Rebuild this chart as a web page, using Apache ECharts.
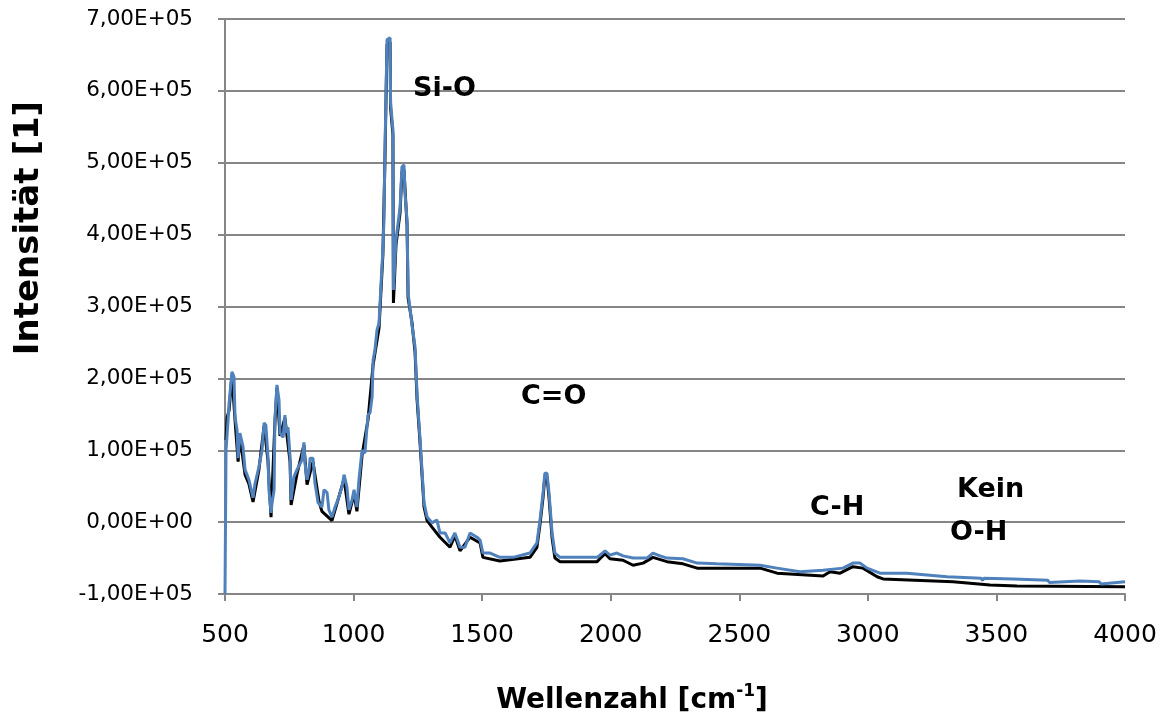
<!DOCTYPE html>
<html>
<head>
<meta charset="utf-8">
<script src="https://cdn.jsdelivr.net/npm/echarts@6/dist/echarts.min.js"></script>
<style>
  html, body { margin: 0; padding: 0; background: #fff; }
  #main { width: 1167px; height: 721px; }
</style>
</head>
<body>
<div id="main"></div>
<script>
// Spektrum (blau) - Wellenzahl / Intensität
var waveBlue = [500, 504, 512, 516, 527, 535, 539, 547, 551, 558, 570, 578, 593, 609, 617, 632, 644, 652, 659, 667,
  671, 679, 683, 691, 694, 702, 710, 714, 726, 733, 737, 745, 753, 757, 768, 780, 799, 807, 811, 819,
  827, 831, 842, 850, 862, 877, 885, 897, 904, 916, 928, 939, 955, 963, 974, 982, 994, 1002, 1013, 1021,
  1033, 1044, 1056, 1064, 1072, 1076, 1083, 1091, 1099, 1107, 1114, 1118, 1122, 1130, 1142, 1144, 1153, 1155, 1165, 1181,
  1188, 1196, 1200, 1208, 1212, 1227, 1239, 1247, 1258, 1266, 1274, 1286, 1305, 1324, 1336, 1356, 1375, 1394, 1414, 1433,
  1453, 1480, 1492, 1503, 1531, 1569, 1620, 1686, 1713, 1725, 1737, 1744, 1752, 1760, 1772, 1783, 1803, 1947, 1958, 1978,
  1997, 2024, 2048, 2087, 2141, 2164, 2192, 2219, 2281, 2336, 2413, 2581, 2647, 2736, 2826, 2903, 2942, 2969, 2997, 3047,
  3152, 3308, 3440, 3446, 3452, 3565, 3700, 3706, 3825, 3900, 3906, 4000];
var intBlue = [-100000, 100000, 142000, 166000, 209000, 202000, 146000, 128000, 89000, 124000, 105000, 73000, 59000, 34000, 54000, 77000, 100000, 138000, 135000, 91000,
  45000, 13000, 27000, 45000, 142000, 191000, 170000, 124000, 118000, 149000, 124000, 132000, 91000, 31000, 63000, 73000, 86000, 111000, 82000, 59000,
  73000, 89000, 89000, 54000, 27000, 21000, 45000, 41000, 17000, 7000, 21000, 31000, 49000, 66000, 49000, 17000, 31000, 45000, 21000, 59000,
  100000, 96000, 149000, 152000, 174000, 226000, 239000, 267000, 277000, 333000, 379000, 420000, 514000, 671000, 674000, 583000, 546000, 323000, 393000, 438000,
  494000, 497000, 458000, 420000, 319000, 275000, 244000, 177000, 118000, 73000, 27000, 7000, -1000, 3000, -15000, -15000, -29000, -15000, -35000, -35000,
  -15000, -21000, -25000, -43000, -43000, -49000, -49000, -43000, -29000, 3000, 41000, 68000, 68000, 41000, -15000, -43000, -49000, -49000, -46000, -40000,
  -46000, -43000, -47000, -50000, -50000, -43000, -47000, -50000, -51000, -57000, -58000, -60000, -64000, -69000, -67000, -64000, -57000, -57000, -64000, -71000,
  -71000, -76000, -78000, -81000, -78000, -79000, -81000, -84000, -82000, -83000, -86000, -83000];

// Spektrum (schwarz)
var waveBlack = [504, 508, 516, 527, 539, 551, 558, 578, 593, 609, 632, 652, 667, 679, 694, 702, 714, 733, 753, 757,
  780, 807, 819, 842, 866, 877, 916, 963, 982, 1002, 1013, 1033, 1056, 1076, 1099, 1114, 1122, 1130, 1142, 1144,
  1153, 1155, 1165, 1181, 1188, 1196, 1208, 1212, 1227, 1239, 1247, 1258, 1274, 1286, 1305, 1336, 1375, 1394, 1414, 1453,
  1492, 1503, 1569, 1686, 1713, 1725, 1737, 1744, 1752, 1760, 1772, 1783, 1803, 1947, 1958, 1978, 1997, 2048, 2087, 2126,
  2164, 2219, 2281, 2336, 2581, 2647, 2826, 2853, 2892, 2942, 2981, 3036, 3059, 3331, 3475, 3580, 4000];
var intBlack = [114000, 145000, 156000, 205000, 142000, 84000, 120000, 66000, 53000, 28000, 73000, 134000, 86000, 7000, 137000, 187000, 120000, 145000, 84000, 24000,
  67000, 107000, 52000, 84000, 28000, 15000, 2000, 60000, 11000, 39000, 15000, 93000, 142000, 219000, 270000, 372000, 504000, 664000, 668000, 576000,
  539000, 305000, 386000, 431000, 487000, 490000, 413000, 312000, 278000, 237000, 170000, 113000, 21000, 2000, -7000, -21000, -35000, -19000, -40000, -21000,
  -29000, -49000, -54000, -49000, -35000, -3000, 35000, 64000, 64000, 34000, -22000, -50000, -55000, -55000, -51000, -44000, -51000, -53000, -60000, -57000,
  -49000, -55000, -58000, -64000, -64000, -71000, -75000, -69000, -71000, -62000, -64000, -76000, -79000, -83000, -87500, -89000, -90000];

function zip(xs, ys) {
  var out = [];
  for (var i = 0; i < xs.length; i++) out.push([xs[i], ys[i]]);
  return out;
}

// Excel-Format 7,00E+05
function sci(v) {
  if (v === 0) return '0,00E+00';
  var neg = v < 0;
  var a = Math.abs(v);
  var e = Math.floor(Math.log10(a) + 1e-9);
  var m = (a / Math.pow(10, e)).toFixed(2).replace('.', ',');
  return (neg ? '-' : '') + m + 'E+' + (e < 10 ? '0' + e : e);
}

var chart = echarts.init(document.getElementById('main'));
var lblFont = 'DejaVu Sans';
var boldFont = 'bold 27px "DejaVu Sans"';
var grey = '#868686';

var option = {
  animation: false,
  grid: { left: 225, right: 42, top: 19, bottom: 127 },
  xAxis: {
    type: 'value',
    min: 500, max: 4000, interval: 500,
    axisLine: { onZero: false, lineStyle: { color: grey, width: 2 } },
    axisTick: { length: 7, lineStyle: { color: grey, width: 2 } },
    axisLabel: { color: '#000', fontFamily: lblFont, fontSize: 25, margin: 29,
      formatter: function (v) { return String(v); } },
    splitLine: { show: false }
  },
  yAxis: [{
    type: 'value',
    min: -100000, max: 700000, interval: 100000,
    axisLine: { show: true, lineStyle: { color: grey, width: 2 } },
    axisTick: { show: true, length: 7, lineStyle: { color: grey, width: 2 } },
    axisLabel: { color: '#000', fontFamily: lblFont, fontSize: 21.5, margin: 32, formatter: sci },
    splitLine: { show: true, lineStyle: { color: grey, width: 2 } }
  }, {
    // zweite Achse nur fuer die Gitterlinien (lange Innen-Ticks)
    type: 'value',
    position: 'left',
    offset: 0,
    min: -100000, max: 700000, interval: 100000,
    axisLine: { show: false },
    axisLabel: { show: false },
    axisTick: { show: true, inside: true, length: 900, lineStyle: { color: grey, width: 2 } },
    splitLine: { show: false }
  }],
  series: [{
    name: 'schwarz',
    type: 'line',
    yAxisIndex: 0,
    data: zip(waveBlack, intBlack),
    showSymbol: false,
    lineStyle: { color: '#000', width: 3 },
    z: 5
  }, {
    name: 'blau',
    type: 'line',
    yAxisIndex: 0,
    data: zip(waveBlue, intBlue),
    showSymbol: false,
    lineStyle: { color: '#4f81bd', width: 3 },
    z: 6
  }],
  graphic: [
    { type: 'text', x: 29, y: 228, rotation: Math.PI / 2, z: 20,
      style: { text: 'Intensität [1]', font: 'bold 34px "DejaVu Sans"', fill: '#000', align: 'center', verticalAlign: 'middle' } },
    { type: 'text', x: 632, y: 699, z: 20,
      style: { text: '{t|Wellenzahl [cm}{s|-1}{t|]}', align: 'center', verticalAlign: 'middle', rich: {
        t: { fontFamily: 'DejaVu Sans', fontWeight: 'bold', fontSize: 28, fill: '#000', verticalAlign: 'bottom' },
        s: { fontFamily: 'DejaVu Sans', fontWeight: 'bold', fontSize: 17, fill: '#000', verticalAlign: 'top', padding: [0, 0, 14, 0] }
      } } },
    { type: 'text', x: 413, y: 89, z: 20, style: { text: 'Si-O', font: boldFont, fill: '#000', align: 'left', verticalAlign: 'middle' } },
    { type: 'text', x: 521, y: 397, z: 20, style: { text: 'C=O', font: boldFont, fill: '#000', align: 'left', verticalAlign: 'middle' } },
    { type: 'text', x: 810, y: 508, z: 20, style: { text: 'C-H', font: boldFont, fill: '#000', align: 'left', verticalAlign: 'middle' } },
    { type: 'text', x: 957, y: 490, z: 20, style: { text: 'Kein', font: boldFont, fill: '#000', align: 'left', verticalAlign: 'middle' } },
    { type: 'text', x: 950, y: 533, z: 20, style: { text: 'O-H', font: boldFont, fill: '#000', align: 'left', verticalAlign: 'middle' } }
  ]
};

chart.setOption(option);
</script>
</body>
</html>
